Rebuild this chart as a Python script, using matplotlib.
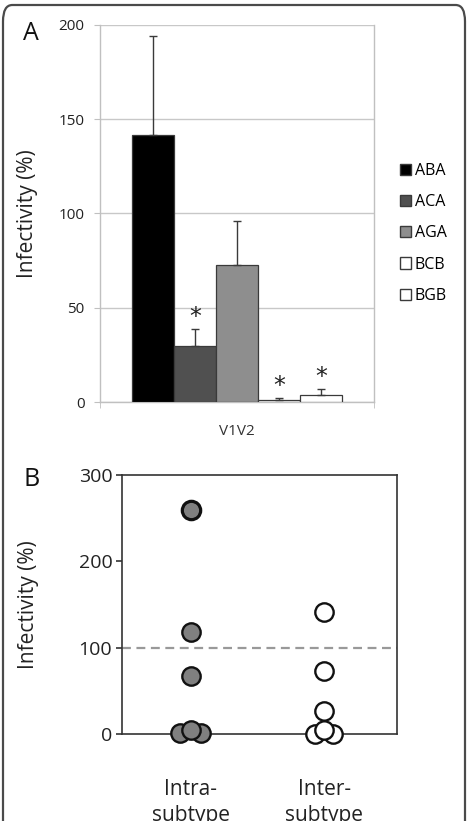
import numpy as np
import matplotlib
matplotlib.use('Agg')
import matplotlib.pyplot as plt
from matplotlib.patches import FancyBboxPatch

plt.rcParams['font.family'] = ['Open Sans', 'DejaVu Sans']

# panel A: infectivity of the V1V2 chimeras
chimeras = ['ABA', 'ACA', 'AGA', 'BCB', 'BGB']
infect = [141.5, 29.5, 72.5, 1.0, 3.5]
infect_err = [52.5, 9.0, 23.5, 1.0, 3.5]
signif = [False, True, False, True, True]
bar_colors = ['#000000', '#505050', '#8e8e8e', '#ffffff', '#ffffff']
group_label = 'V1V2'

# panel B: individual clones, intra- vs inter-subtype
groups = ['Intra-\nsubtype', 'Inter-\nsubtype']
intra_vals = [260, 118, 68, 1, 1, 5]
intra_off = [0, 0, 0, -0.078, 0.078, 0]
inter_vals = [142, 73, 27, 0, 0, 5]
inter_off = [0, 0, 0, -0.068, 0.068, 0]

fig = plt.figure(figsize=(4.67, 8.21), dpi=100)
W, H = 467, 821

def ax_rect(x0, y0, x1, y1):
    return [x0 / W, 1 - y1 / H, (x1 - x0) / W, (y1 - y0) / H]

# rounded outer frame (runs off the bottom of the picture)
frame = FancyBboxPatch((3 / W, -0.05), 462 / W, 1.05 - 5 / H,
                       boxstyle='round,pad=0,rounding_size=0.02',
                       transform=fig.transFigure, fill=False,
                       edgecolor='#4a4a4a', linewidth=1.6)
fig.patches.append(frame)

# ---------------- panel A ----------------
axA = fig.add_axes(ax_rect(100, 25, 374, 402))
xs = np.arange(len(chimeras))
axA.bar(xs, infect, width=1.0, color=bar_colors,
        edgecolor='#3a3a3a', linewidth=0.9, zorder=3)
axA.errorbar(xs, infect, yerr=[np.zeros(len(infect)), infect_err],
             fmt='none', ecolor='#3a3a3a', elinewidth=1.0, capsize=3,
             capthick=1.0, zorder=4)
for x, v, e, s in zip(xs, infect, infect_err, signif):
    if s:
        axA.annotate('*', (x, v + e), xytext=(0, 0), textcoords='offset points',
                     ha='center', va='bottom', fontsize=17, color='#222222',
                     family='DejaVu Sans')
axA.set_xlim(2 - 3.26, 2 + 3.26)
axA.set_ylim(0, 200)
axA.set_yticks([0, 50, 100, 150, 200])
axA.grid(axis='y', color='#c8c8c8', linewidth=1.0, zorder=0)
for sp in ['left', 'bottom', 'right', 'top']:
    axA.spines[sp].set_color('#c0c0c0')
    axA.spines[sp].set_linewidth(1.0)
axA.spines['top'].set_visible(False)
axA.set_xticks([2])
axA.set_xticklabels([group_label])
axA.set_xticks([2 - 3.26, 2 + 3.26], minor=True)
axA.tick_params(axis='x', which='major', length=0, pad=16, labelsize=11,
                colors='#333333')
axA.tick_params(axis='x', which='minor', length=4, color='#c0c0c0')
axA.tick_params(axis='y', length=4, color='#c0c0c0', labelsize=11,
                labelcolor='#222222', pad=7)
axA.set_ylabel('Infectivity (%)', fontsize=15, color='#222222')
axA.yaxis.set_label_coords(-62 / 274, 0.5)

handles = [plt.Rectangle((0, 0), 1, 1, facecolor=c, edgecolor='#3a3a3a',
                         linewidth=1.0) for c in bar_colors]
axA.legend(handles, chimeras, loc='center left', bbox_to_anchor=(1.07, 0.447),
           frameon=False, fontsize=11.5, handlelength=0.7, handleheight=0.7,
           handletextpad=0.25, labelspacing=0.95, borderaxespad=0)

fig.text(31 / W, 1 - 34 / H, 'A', fontsize=18, ha='center', va='center',
         color='#111111')

# ---------------- panel B ----------------
axB = fig.add_axes(ax_rect(122, 475, 397, 734.3))
axB.set_xlim(0.485, 2.545)
axB.set_ylim(0, 300)
axB.axhline(100, color='#999999', linewidth=1.6, linestyle=(0, (4, 2.5)),
            zorder=1)
for i, (vals, offs, fc) in enumerate([(intra_vals, intra_off, '#808080'),
                                      (inter_vals, inter_off, '#ffffff')]):
    for k, (v, o) in enumerate(zip(vals, offs)):
        lw = 2.3 if (i == 0 and k == 0) else 1.7
        axB.scatter(i + 1 + o, v, s=175, facecolor=fc, edgecolor='#111111',
                    linewidth=lw, zorder=3 + k, clip_on=False)
for sp in axB.spines.values():
    sp.set_color('#333333')
    sp.set_linewidth(1.2)
axB.set_yticks([0, 100, 200, 300])
axB.tick_params(axis='y', length=4, width=1.2, color='#333333', labelsize=14,
                labelcolor='#222222', pad=3)
axB.set_xticks([1, 2])
axB.set_xticklabels(groups)
axB.tick_params(axis='x', length=0, pad=32, labelsize=15, labelcolor='#222222')
for t in axB.get_xticklabels():
    t.set_linespacing(1.3)
axB.set_ylabel('Infectivity (%)', fontsize=15, color='#222222')
axB.yaxis.set_label_coords(-83 / 275, 0.5)

fig.text(32 / W, 1 - 479 / H, 'B', fontsize=18, ha='center', va='center',
         color='#111111')

fig.savefig('out.png', dpi=100)
